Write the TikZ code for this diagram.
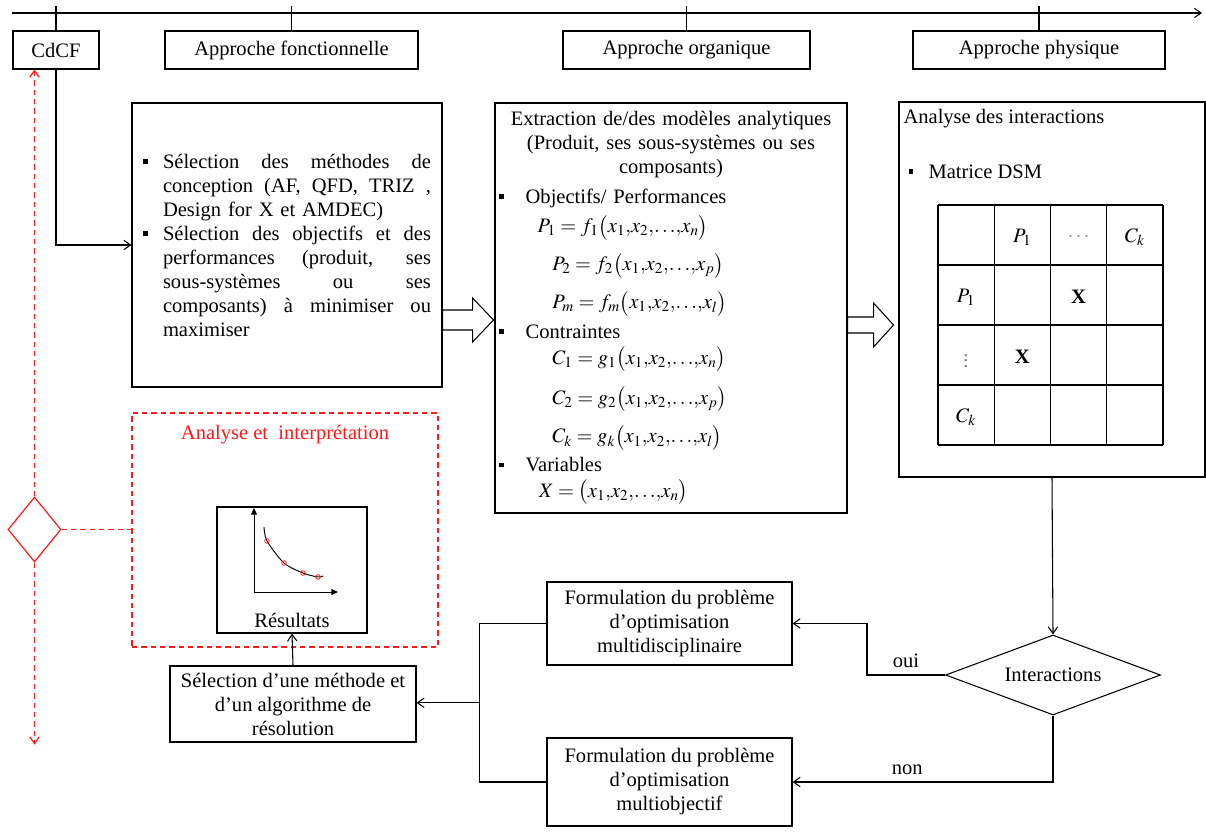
\documentclass[tikz,border=0pt]{standalone}
\usepackage{mathptmx}
\usepackage{fontspec}
\setmainfont{Liberation Serif}
\usetikzlibrary{arrows.meta,positioning,shapes.geometric,calc}
\definecolor{Alert}{HTML}{FF1A1A}
\newcommand{\bul}{\raisebox{0.22em}{\rule{3.6pt}{3.6pt}}}
\newcommand{\jline}[1]{\hbox to 201pt{\spaceskip=0.3em plus 1fil\xspaceskip=0.3em plus 1fil\relax #1}}
\newcommand{\ctr}[1]{\makebox[258pt][c]{#1}}
\newcommand{\xs}[1]{\bigl(x_1{,}x_2{,}{\ldots}{,}x_{#1}\bigr)}

\begin{document}
\begin{tikzpicture}[x=0.75pt,y=-0.75pt,line width=0.8pt,
  font=\fontsize{15.4}{18}\selectfont,
  box/.style={draw,inner sep=0pt,align=center},
  head/.style={box,minimum height=28.5pt},
  decision/.style={draw,diamond,aspect=2.7,minimum width=161.25pt,minimum height=60pt},
  redbox/.style={draw=Alert,dash pattern=on 4pt off 3pt,inner sep=0pt},
  reddash/.style={draw=Alert,line width=0.9pt,dash pattern=on 4pt off 3pt},
  arrow/.style={-{Straight Barb[length=5pt,width=7pt]}},
  axis/.style={-{Triangle[length=5pt,width=4.5pt]},line width=0.7pt},
  blockarrow/.style={draw,fill=white}
]
\useasboundingbox (0,0) rectangle (1206,834);

% time line and phases
\coordinate (t0) at (12,13);
\coordinate (t1) at (1202,13);
\draw[arrow] (t0) -- (t1);
\node[head,minimum width=64.5pt] (cdcf) at (56,50) {CdCF};
\node[head,minimum width=189.75pt] (hfonc) at (291.5,50) {Approche fonctionnelle};
\node[head,minimum width=185.25pt] (horg) at (686.5,50) {Approche organique};
\node[head,minimum width=189pt] (hphys) at (1039,50) {Approche physique};
\foreach \n in {cdcf,hfonc,horg,hphys}
  \draw (\n.north) -- ++(0,-24);

% main boxes
\node[box,minimum width=232.5pt,minimum height=213pt,text width=216pt,align=left] (fonc) at (287,245) {%
\makebox[15pt][l]{\bul}\jline{Sélection des méthodes de}\\
\hspace*{15pt}\jline{conception (AF, QFD, TRIZ ,}\\
\hspace*{15pt}Design for X et AMDEC)\\
\makebox[15pt][l]{\bul}\jline{Sélection des objectifs et des}\\
\hspace*{15pt}\jline{performances (produit, ses}\\
\hspace*{15pt}\jline{sous-systèmes ou ses}\\
\hspace*{15pt}\jline{composants) à minimiser ou}\\
\hspace*{15pt}maximiser};

\node[box,minimum width=264pt,minimum height=307.5pt,text width=258pt,align=left] (org) at (671,308) {%
\ctr{Extraction de/des modèles analytiques}\\
\ctr{(Produit, ses sous-systèmes ou ses}\\
\ctr{composants)}\\[4.5pt]
\makebox[20pt][l]{\bul}Objectifs/ Performances\\[3.75pt]
\hspace*{29pt}$P_1 = f_1\xs{n}$\\[9pt]
\hspace*{40pt}$P_2 = f_2\xs{p}$\\[9pt]
\hspace*{40pt}$P_m = f_m\xs{l}$\\[4.5pt]
\makebox[20pt][l]{\bul}Contraintes\\[1pt]
\hspace*{40pt}$C_1 = g_1\xs{n}$\\[10.5pt]
\hspace*{40pt}$C_2 = g_2\xs{p}$\\[9.75pt]
\hspace*{40pt}$C_k = g_k\xs{l}$\\[3.75pt]
\makebox[20pt][l]{\bul}Variables\\[1pt]
\hspace*{30pt}$X = \xs{n}$};

\node[box,minimum width=229.5pt,minimum height=281.25pt] (phys) at (1052,289.5) {};
\node[anchor=west,inner sep=0pt] (physttl) at (903,119) {Analyse des interactions};
\node[anchor=west,inner sep=0pt] (dsm) at (908,172) {\makebox[15pt][l]{\bul}Matrice DSM};

% DSM matrix
\foreach \i in {0,...,4} {
  \draw (938+56.25*\i,205) -- (938+56.25*\i,445);
  \draw (938,205+60*\i) -- (1163,205+60*\i);
}
\foreach \c/\r/\t in {1/0/{$P_1$},2/0/{\textcolor{gray}{$\cdots$}},3/0/{$C_k$},
  0/1/{$P_1$},2/1/{\textbf{X}},0/2/{\textcolor{gray}{$\vdots$}},1/2/{\textbf{X}},0/3/{$C_k$}}
  \node (m\c\r) at (966+56.25*\c,237+60*\r) {\t};

% block arrows
\coordinate (ba1) at ($(fonc.east)+(0,75)$);
\draw[blockarrow] (ba1) ++(0,-10) -- ++(30,0) -- ++(0,-12) -- ++(21,22)
  -- ++(-21,22) -- ++(0,-12) -- ++(-30,0) -- cycle;
\coordinate (ba2) at ($(org.east)+(0,17)$);
\draw[blockarrow] (ba2) ++(0,-8) -- ++(26,0) -- ++(0,-14) -- ++(20,22)
  -- ++(-20,22) -- ++(0,-14) -- ++(-26,0) -- cycle;

% decision and formulations
\node[decision] (inter) at (1053,675) {Interactions};
\node[box,minimum width=183.75pt,minimum height=62.25pt] (form1) at (669.5,623.5) {Formulation du problème\\d’optimisation\\multidisciplinaire};
\node[box,minimum width=183.75pt,minimum height=66pt] (form2) at (669.5,782) {Formulation du problème\\d’optimisation\\multiobjectif};
\node[box,minimum width=184.5pt,minimum height=57pt] (sel) at (293,704) {Sélection d’une méthode et\\d’un algorithme de\\résolution};

% results
\node[redbox,minimum width=229.5pt,minimum height=175.5pt] (interp) at (285,530) {};
\node[text=Alert,below=6pt of interp.north] (interpttl) {Analyse et\ \ interprétation};
\node[box,minimum width=112.5pt,minimum height=94.5pt] (res) at (292,570) {};
\node[above=1pt of res.south] (restxt) {Résultats};
\coordinate (o) at (254,592);
\draw[axis] (o) -- ++(0,-84);
\draw[axis] (o) -- ++(84,0);
\draw[line width=0.7pt] plot[smooth] coordinates {(264,527) (267,541) (284,563) (303,573) (318,577) (323,576)};
\foreach \p in {(267,541),(284,563),(303,573),(318,577)}
  \draw[Alert,line width=0.6pt] \p circle[radius=2.3];

\node[draw=Alert,line width=0.9pt,diamond,inner sep=0pt,minimum width=39.75pt,minimum height=48.75pt] (reddiam) at (34.5,529.5) {};

% connectors
\draw[arrow] (cdcf.south) |- (fonc.west);
\draw[arrow] (phys.south) -- (inter.north);
\draw[arrow] (inter.west) -- ++(-78,0) node[midway,above=2pt] (oui) {oui} |- (form1.east);
\draw[arrow] (inter.south) |- node[pos=0.78,above=2pt] (non) {non} (form2.east);
\draw (form1.west) -- ++(-67,0) coordinate (jt) |- (form2.west);
\coordinate (jn) at ($(jt)!0.5!(jt |- form2.west)$);
\draw[arrow] (jn) -- (jn -| sel.east);
\draw[arrow] (sel.north) -- (res.south);
\draw[reddash] (reddiam.east) -- (reddiam.east -| interp.west);
\draw[reddash,arrow] (reddiam.north) -- (reddiam.north |- cdcf.south);
\draw[reddash,arrow] (reddiam.south) -- ++(0,182) coordinate (rdend);
\end{tikzpicture}
\end{document}
